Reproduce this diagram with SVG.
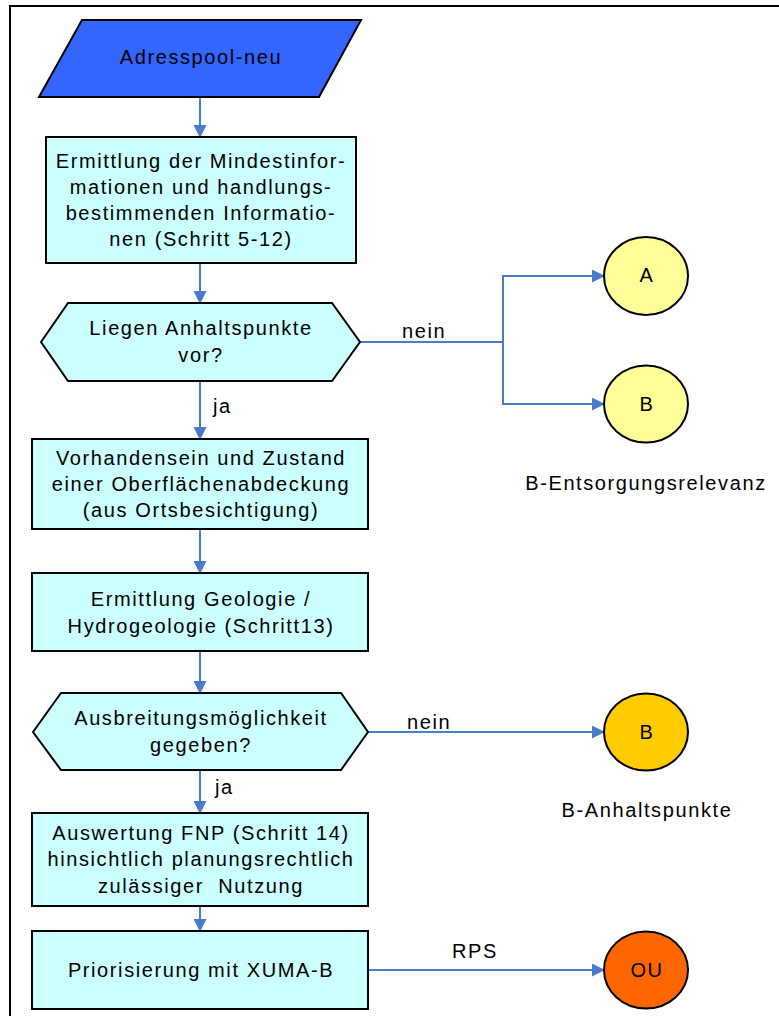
<svg xmlns="http://www.w3.org/2000/svg" width="779" height="1016" viewBox="0 0 779 1016">
<defs>
<marker id="arr" markerWidth="13" markerHeight="13" refX="12" refY="6.5" orient="auto" markerUnits="userSpaceOnUse">
<path d="M0,0 L13,6.5 L0,13 Z" fill="#4A7BC8"/>
</marker>
<style>
.t{font-family:"Liberation Sans",Arial,sans-serif;font-size:20px;letter-spacing:1.6px;fill:#000;text-anchor:middle}
.l{font-family:"Liberation Sans",Arial,sans-serif;font-size:20px;letter-spacing:1.6px;fill:#000}
.box{fill:#CCFFFF;stroke:#000;stroke-width:2}
.c{stroke:#4A7BC8;stroke-width:2;fill:none}
.circ{stroke:#000;stroke-width:2}
</style>
</defs>
<rect width="779" height="1016" fill="#fff"/>
<path d="M10,1016 V6 H779" fill="none" stroke="#000" stroke-width="2"/>

<g id="connectors">
<path class="c" d="M200,97 V137" marker-end="url(#arr)"/>
<path class="c" d="M200,263 V303" marker-end="url(#arr)"/>
<path class="c" d="M200,381 V439" marker-end="url(#arr)"/>
<path class="c" d="M200,529 V573" marker-end="url(#arr)"/>
<path class="c" d="M200,651 V693" marker-end="url(#arr)"/>
<path class="c" d="M200,770 V813" marker-end="url(#arr)"/>
<path class="c" d="M200,906 V931" marker-end="url(#arr)"/>
<path class="c" d="M360,342 H503 V276 H604" marker-end="url(#arr)"/>
<path class="c" d="M503,342 V404 H604" marker-end="url(#arr)"/>
<path class="c" d="M368,732 H604" marker-end="url(#arr)"/>
<path class="c" d="M368,970 H604" marker-end="url(#arr)"/>
<text class="l" x="402" y="338">nein</text>
<text class="l" x="407" y="729">nein</text>
<text class="l" x="213" y="413">ja</text>
<text class="l" x="215" y="794">ja</text>
<text class="l" x="452" y="958">RPS</text>
</g>

<g id="start">
<polygon points="82,20 361,20 319,97 39,97" fill="#3366FF" stroke="#000" stroke-width="2"/>
<text class="t" x="201" y="64">Adresspool-neu</text>
</g>

<g id="step1">
<rect class="box" x="46" y="137" width="310" height="126"/>
<text class="t" x="201" y="168">Ermittlung der Mindestinfor-</text>
<text class="t" x="201" y="194">mationen und handlungs-</text>
<text class="t" x="201" y="220">bestimmenden Informatio-</text>
<text class="t" x="201" y="246">nen (Schritt 5-12)</text>
</g>

<g id="decision1">
<polygon class="box" points="41,342 68,303 332,303 360,342 332,381 68,381"/>
<text class="t" x="201" y="335">Liegen Anhaltspunkte</text>
<text class="t" x="201" y="362">vor?</text>
</g>

<g id="step2">
<rect class="box" x="32" y="439" width="336" height="90"/>
<text class="t" x="201" y="465">Vorhandensein und Zustand</text>
<text class="t" x="201" y="491">einer Oberflächenabdeckung</text>
<text class="t" x="201" y="517">(aus Ortsbesichtigung)</text>
</g>

<g id="step3">
<rect class="box" x="32" y="573" width="336" height="78"/>
<text class="t" x="201" y="606">Ermittlung Geologie /</text>
<text class="t" x="201" y="633">Hydrogeologie (Schritt13)</text>
</g>

<g id="decision2">
<polygon class="box" points="33,732 61,693 341,693 368,732 341,770 61,770"/>
<text class="t" x="201" y="725">Ausbreitungsmöglichkeit</text>
<text class="t" x="201" y="752">gegeben?</text>
</g>

<g id="step4">
<rect class="box" x="32" y="813" width="336" height="93"/>
<text class="t" x="201" y="840">Auswertung FNP (Schritt 14)</text>
<text class="t" x="201" y="866">hinsichtlich planungsrechtlich</text>
<text class="t" x="201" y="893" xml:space="preserve">zulässiger  Nutzung</text>
</g>

<g id="step5">
<rect class="box" x="32" y="931" width="336" height="78"/>
<text class="t" x="201" y="977">Priorisierung mit XUMA-B</text>
</g>

<g id="endA">
<ellipse class="circ" cx="646" cy="276" rx="42" ry="39" fill="#FFFF99"/>
<text class="t" x="647" y="282">A</text>
</g>

<g id="endB1">
<ellipse class="circ" cx="646" cy="404" rx="42" ry="38.5" fill="#FFFF99"/>
<text class="t" x="647" y="411">B</text>
<text class="t" x="646" y="490">B-Entsorgungsrelevanz</text>
</g>

<g id="endB2">
<ellipse class="circ" cx="646" cy="732" rx="42" ry="38.5" fill="#FFCC00"/>
<text class="t" x="647" y="739">B</text>
<text class="t" x="647" y="817">B-Anhaltspunkte</text>
</g>

<g id="endOU">
<ellipse class="circ" cx="646" cy="970" rx="42" ry="38.5" fill="#FF6600"/>
<text class="t" x="647" y="977">OU</text>
</g>
</svg>
